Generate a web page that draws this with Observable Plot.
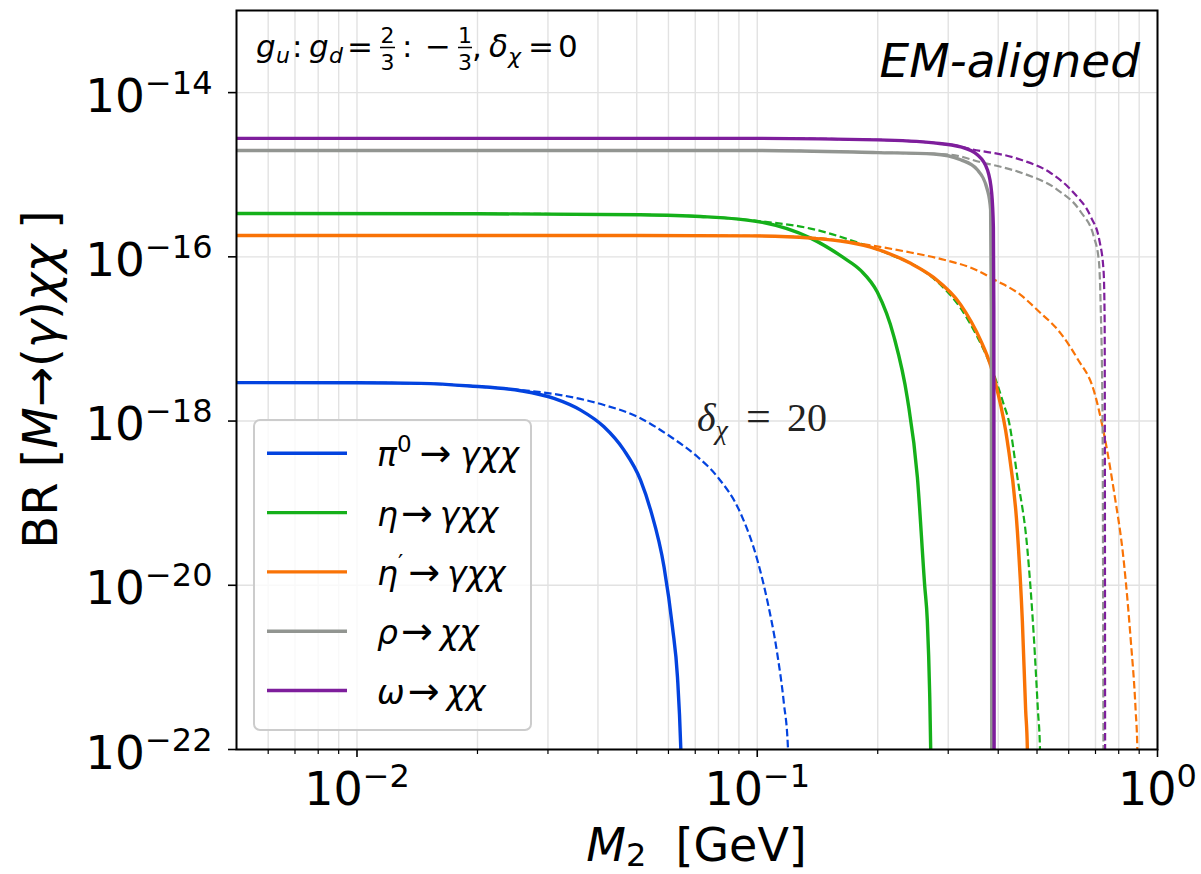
<!DOCTYPE html>
<html>
<head>
<meta charset="utf-8">
<script src="https://cdn.jsdelivr.net/npm/d3@7"></script>
<script src="https://cdn.jsdelivr.net/npm/@observablehq/plot@0.6"></script>
<style>
  html, body { margin: 0; padding: 0; background: #fff; }
  svg { display: block; }
</style>
</head>
<body>
<div id="chart"></div>
<script>
// ---------------- data ----------------
const seriesKeys   = ["pi0", "eta", "etap", "rho", "omega"];
const seriesColors = ["#0343df", "#15b01a", "#f97306", "#929591", "#7e1e9c"];

const legendBase    = ["π", "η", "η", "ρ", "ω"];
const legendSup     = ["0", "", "′", "", ""];
const legendProduct = ["γχχ", "γχχ", "γχχ", "χχ", "χχ"];

const xDomain = [0.005, 1];
const yDomain = [1e-22, 1e-13];
const xMajorTicks = [0.01, 0.1, 1];
const xTickLabels = ["10^−2", "10^−1", "10^0"];
const xMinorTicks = [0.006, 0.007, 0.008, 0.009,
  0.02, 0.03, 0.04, 0.05, 0.06, 0.07, 0.08, 0.09,
  0.2, 0.3, 0.4, 0.5, 0.6, 0.7, 0.8, 0.9];
const yMajorTicks = [1e-22, 1e-20, 1e-18, 1e-16, 1e-14];
const yTickLabels = ["10^−22", "10^−20", "10^−18", "10^−16", "10^−14"];

// pi0 -> gamma chi chi
const M2_pi0_d0  = [0.005, 0.010, 0.01442, 0.01923, 0.02564, 0.03105, 0.0362, 0.0414, 0.04645, 0.0511, 0.05416, 0.0585, 0.0614, 0.0632, 0.0644, 0.0652];
const BR_pi0_d0  = [2.94e-18, 2.93e-18, 2.88e-18, 2.67e-18, 2.34e-18, 1.89e-18, 1.36e-18, 8.51e-19, 4.42e-19, 1.91e-19, 8.22e-20, 1.67e-20, 3.10e-21, 7.61e-22, 1.07e-22, 1e-23];
const M2_pi0_d20 = [0.005, 0.010, 0.01442, 0.01923, 0.02564, 0.03228, 0.0414, 0.05017, 0.06076, 0.0709, 0.07949, 0.0909, 0.1001, 0.1059, 0.1122, 0.1166, 0.1193, 0.1205];
const BR_pi0_d20 = [2.94e-18, 2.93e-18, 2.88e-18, 2.67e-18, 2.39e-18, 2.07e-18, 1.57e-18, 1.13e-18, 6.44e-19, 3.67e-19, 2.10e-19, 7.48e-20, 2.02e-20, 6.56e-21, 1.47e-21, 3.61e-22, 1.07e-22, 1e-23];

// eta -> gamma chi chi
const M2_eta_d0  = [0.005, 0.02, 0.0511, 0.0721, 0.1020, 0.1359, 0.1646, 0.1813, 0.1995, 0.2196, 0.2371, 0.2512, 0.2620, 0.2660, 0.2696, 0.2712, 0.2725];
const BR_eta_d0  = [3.37e-16, 3.35e-16, 3.25e-16, 3.10e-16, 2.65e-16, 1.69e-16, 9.70e-17, 6.83e-17, 3.72e-17, 1.06e-17, 1.91e-18, 2.09e-19, 1.0e-20, 3.73e-21, 4.99e-22, 1.06e-22, 1e-23];
const M2_eta_d20 = [0.005, 0.02, 0.0511, 0.0721, 0.1020, 0.1359, 0.1813, 0.2196, 0.2512, 0.2871, 0.3222, 0.3547, 0.3829, 0.4133, 0.4251, 0.4465, 0.4729, 0.4912, 0.5026, 0.5085, 0.5100];
const BR_eta_d20 = [3.37e-16, 3.35e-16, 3.25e-16, 3.10e-16, 2.71e-16, 2.21e-16, 1.45e-16, 1.02e-16, 7.54e-17, 4.56e-17, 2.37e-17, 1.06e-17, 4.74e-18, 1.57e-18, 1.0e-18, 2.09e-19, 2.79e-20, 2.26e-21, 3.01e-22, 1.06e-22, 1e-23];

// eta' -> gamma chi chi
const M2_etap_d0  = [0.005, 0.05, 0.0963, 0.1359, 0.1920, 0.2416, 0.2763, 0.3222, 0.3615, 0.3829, 0.3980, 0.4214, 0.4465, 0.4595, 0.4684, 0.4729, 0.4745];
const BR_etap_d0  = [1.82e-16, 1.82e-16, 1.80e-16, 1.69e-16, 1.31e-16, 8.33e-17, 5.57e-17, 2.62e-17, 9.59e-18, 4.74e-18, 2.34e-18, 5.71e-19, 4.62e-20, 3.73e-21, 3.01e-22, 1.06e-22, 1e-23];
const M2_etap_d20 = [0.005, 0.05, 0.0963, 0.1359, 0.1920, 0.2416, 0.2927, 0.3547, 0.3903, 0.4550, 0.5009, 0.5729, 0.6304, 0.6935, 0.7349, 0.7783, 0.8245, 0.8567, 0.8818, 0.8903, 0.8930];
const BR_etap_d20 = [1.82e-16, 1.82e-16, 1.80e-16, 1.72e-16, 1.38e-16, 1.13e-16, 9.22e-17, 6.83e-17, 5.30e-17, 3.44e-17, 2.25e-17, 1.17e-17, 5.78e-18, 2.34e-18, 7.00e-19, 1.40e-19, 1.87e-20, 2.26e-21, 3.01e-22, 1.06e-22, 1e-23];

// rho -> chi chi
const M2_rho_d0  = [0.005, 0.1, 0.2, 0.2763, 0.3222, 0.3547, 0.3758, 0.3829, 0.3844, 0.3850, 0.3855];
const BR_rho_d0  = [1.97e-15, 1.97e-15, 1.86e-15, 1.79e-15, 1.52e-15, 1.15e-15, 6.56e-16, 3.74e-16, 2.26e-17, 1e-20, 1e-23];
const M2_rho_d20 = [0.005, 0.1, 0.2, 0.2763, 0.3041, 0.3684, 0.4056, 0.4637, 0.5623, 0.6427, 0.6935, 0.7141, 0.7210, 0.7290, 0.7320, 0.7335];
const BR_rho_d20 = [1.97e-15, 1.97e-15, 1.86e-15, 1.79e-15, 1.75e-15, 1.39e-15, 1.25e-15, 1.03e-15, 6.56e-16, 3.54e-16, 1.75e-16, 8.69e-17, 2.60e-17, 1e-18, 1e-21, 1e-23];

// omega -> chi chi
const M2_omega_d0  = [0.005, 0.1, 0.2, 0.2763, 0.3222, 0.3547, 0.3758, 0.3852, 0.3890, 0.3900, 0.3905, 0.3908];
const BR_omega_d0  = [2.77e-15, 2.77e-15, 2.66e-15, 2.44e-15, 2.18e-15, 1.75e-15, 1.15e-15, 6.0e-16, 2.3e-16, 2.3e-17, 1e-20, 1e-23];
const M2_omega_d20 = [0.005, 0.1, 0.2, 0.2763, 0.3222, 0.3348, 0.4465, 0.5407, 0.6182, 0.6806, 0.7167, 0.7334, 0.7378, 0.7390, 0.7398, 0.7405];
const BR_omega_d20 = [2.77e-15, 2.77e-15, 2.66e-15, 2.44e-15, 2.20e-15, 2.10e-15, 1.57e-15, 1.05e-15, 5.98e-16, 3.10e-16, 1.54e-16, 6.65e-17, 1.71e-17, 1.09e-19, 1.06e-22, 1e-23];

const curves = [
  {series: "pi0",   delta: 0,  xs: M2_pi0_d0,    ys: BR_pi0_d0},
  {series: "pi0",   delta: 20, xs: M2_pi0_d20,   ys: BR_pi0_d20},
  {series: "eta",   delta: 0,  xs: M2_eta_d0,    ys: BR_eta_d0},
  {series: "eta",   delta: 20, xs: M2_eta_d20,   ys: BR_eta_d20},
  {series: "etap",  delta: 0,  xs: M2_etap_d0,   ys: BR_etap_d0},
  {series: "etap",  delta: 20, xs: M2_etap_d20,  ys: BR_etap_d20},
  {series: "rho",   delta: 0,  xs: M2_rho_d0,    ys: BR_rho_d0},
  {series: "rho",   delta: 20, xs: M2_rho_d20,   ys: BR_rho_d20},
  {series: "omega", delta: 0,  xs: M2_omega_d0,  ys: BR_omega_d0},
  {series: "omega", delta: 20, xs: M2_omega_d20, ys: BR_omega_d20}
];

// ---------------- chart ----------------
const W = 1201, H = 874;
const mL = 236, mR = 44, mT = 10, mB = 125;

const lineMarks = curves.map(c => {
  const rows = c.xs.map((x, i) => ({series: c.series, delta: c.delta, x, y: c.ys[i]}));
  return Plot.line(rows, {
    x: "x", y: "y", stroke: "series",
    strokeWidth: c.delta === 0 ? 3.4 : 2.2,
    strokeDasharray: c.delta === 0 ? null : "7.5,3.5",
    strokeLinecap: c.delta === 0 ? "round" : "butt",
    curve: "monotone-x",
    clip: true
  });
});

const gridColor = "#e2e2e2";

const chart = Plot.plot({
  width: W, height: H,
  marginLeft: mL, marginRight: mR, marginTop: mT, marginBottom: mB,
  style: {fontFamily: "DejaVu Sans", background: "white", overflow: "visible", color: "black"},
  x: {type: "log", domain: xDomain, label: null},
  y: {type: "log", domain: yDomain, label: null},
  color: {domain: seriesKeys, range: seriesColors},
  marks: [
    Plot.gridX({ticks: xMinorTicks.concat(xMajorTicks), stroke: gridColor, strokeOpacity: 1, strokeWidth: 1.4}),
    Plot.gridY({ticks: yMajorTicks, stroke: gridColor, strokeOpacity: 1, strokeWidth: 1.4}),
    ...lineMarks,
    Plot.frame({stroke: "black", strokeWidth: 2}),
    Plot.axisX({ticks: xMajorTicks, tickSize: 8, tickFormat: () => "", stroke: "black", strokeWidth: 1.6}),
    Plot.axisX({ticks: xMinorTicks, tickSize: 5, tickFormat: () => "", stroke: "black", strokeWidth: 1.2}),
    Plot.axisY({ticks: yMajorTicks, tickSize: 8, tickFormat: () => "", stroke: "black", strokeWidth: 1.6}),
    Plot.text(xMajorTicks, {x: d => d, text: (d, i) => xTickLabels[i], frameAnchor: "bottom",
      textAnchor: "middle", lineAnchor: "bottom", dy: 55, fontSize: 46, fill: "black"}),
    Plot.text(yMajorTicks, {y: d => d, text: (d, i) => yTickLabels[i], frameAnchor: "left",
      textAnchor: "end", lineAnchor: "bottom", dx: -24, dy: 19, fontSize: 47, fill: "black"})
  ]
});

document.getElementById("chart").append(chart);
const svg = d3.select(chart);

// superscript exponents on tick labels
svg.selectAll("text").filter(function () { return this.textContent.includes("^"); }).each(function () {
  const [b, e] = this.textContent.split("^");
  const t = d3.select(this);
  t.text(b);
  t.append("tspan").attr("font-size", 32).attr("dy", -18).text(e);
});

const cx = (mL + (W - mR)) / 2;
const cy = (mT + (H - mB)) / 2;

// axis titles
const xlab = svg.append("text").attr("x", cx).attr("y", 861).attr("text-anchor", "middle")
  .attr("font-size", 46).attr("font-family", "DejaVu Sans").style("white-space", "pre");
xlab.append("tspan").attr("font-style", "italic").text("M");
xlab.append("tspan").attr("font-size", 32).attr("dy", 5).text("2");
xlab.append("tspan").attr("dy", -5).text("  [GeV]");

const ylab = svg.append("text").attr("transform", `translate(57,${cy}) rotate(-90)`)
  .attr("text-anchor", "middle").attr("font-size", 48).attr("font-family", "DejaVu Sans")
  .style("white-space", "pre");
ylab.append("tspan").text("BR [");
ylab.append("tspan").attr("font-style", "italic").text("M");
ylab.append("tspan").text("→(");
ylab.append("tspan").attr("font-style", "italic").text("γ");
ylab.append("tspan").text(")");
ylab.append("tspan").attr("font-style", "italic").text("χχ");
ylab.append("tspan").text(" ]");

// EM-aligned label
svg.append("text").attr("x", 1140).attr("y", 77).attr("text-anchor", "end")
  .attr("font-size", 47).attr("font-style", "italic").attr("font-family", "DejaVu Sans")
  .text("EM-aligned");

// coupling annotation (top-left)
const ann = svg.append("g").attr("font-family", "DejaVu Sans").attr("fill", "black");
function piece(x, y, s, size, italic, anchor) {
  ann.append("text").attr("x", x).attr("y", y).attr("font-size", size)
    .attr("font-style", italic ? "italic" : "normal")
    .attr("text-anchor", anchor || "start").text(s);
}
piece(256, 57, "g", 31, true);
piece(276, 63, "u", 22, true);
piece(292, 57, ":", 31, false);
piece(309, 57, "g", 31, true);
piece(329, 63, "d", 22, true);
piece(347, 57, "=", 31, false);
piece(387.5, 43, "2", 22, false, "middle");
ann.append("line").attr("x1", 380).attr("x2", 395).attr("y1", 47.5).attr("y2", 47.5).attr("stroke", "black").attr("stroke-width", 1.5);
piece(387.5, 70, "3", 22, false, "middle");
piece(402, 57, ":", 31, false);
piece(425, 57, "−", 31, false);
piece(465, 43, "1", 22, false, "middle");
ann.append("line").attr("x1", 458).attr("x2", 472).attr("y1", 47.5).attr("y2", 47.5).attr("stroke", "black").attr("stroke-width", 1.5);
piece(465, 70, "3", 22, false, "middle");
piece(472, 57, ",", 31, false);
piece(489, 57, "δ", 31, true);
piece(508, 64, "χ", 22, true);
piece(528, 57, "=", 31, false);
piece(558, 57, "0", 31, false);

// delta_chi = 20 annotation
const dlab = svg.append("text").attr("x", 697).attr("y", 431).attr("text-anchor", "start")
  .attr("font-family", "Liberation Serif").attr("font-size", 40).attr("fill", "#222");
dlab.append("tspan").attr("font-style", "italic").text("δ");
dlab.append("tspan").attr("font-style", "italic").attr("font-size", 28).attr("dy", 8).text("χ");
dlab.append("tspan").attr("x", 746).attr("dy", -8).attr("font-size", 44).text("=");
dlab.append("tspan").attr("x", 787).text("20");

// legend
const lg = svg.append("g").attr("font-family", "DejaVu Sans").attr("text-anchor", "start");
lg.append("rect").attr("x", 254).attr("y", 420).attr("width", 277).attr("height", 310).attr("rx", 6)
  .attr("fill", "white").attr("fill-opacity", 0.8).attr("stroke", "#cccccc").attr("stroke-width", 2);
seriesKeys.forEach((k, i) => {
  const ly = 453.3 + i * 59.3;
  lg.append("line").attr("x1", 267).attr("x2", 347).attr("y1", ly).attr("y2", ly)
    .attr("stroke", seriesColors[i]).attr("stroke-width", 3.4);
  const t = lg.append("text").attr("x", 377).attr("y", ly + 13).attr("text-anchor", "start")
    .attr("font-size", 33).attr("fill", "black");
  t.append("tspan").attr("font-style", "italic").text(legendBase[i]);
  if (legendSup[i]) {
    t.append("tspan").attr("font-size", 23).attr("dy", -14).text(legendSup[i]);
    t.append("tspan").attr("dy", 14).attr("dx", legendSup[i] === "0" ? 8 : 5)
      .attr("font-size", 38).text("→");
  } else {
    t.append("tspan").attr("dx", 3).attr("font-size", 38).text("→");
  }
  t.append("tspan").attr("font-style", "italic").attr("dx", legendSup[i] === "0" ? 9 : 7).text(legendProduct[i]);
});
</script>
</body>
</html>
